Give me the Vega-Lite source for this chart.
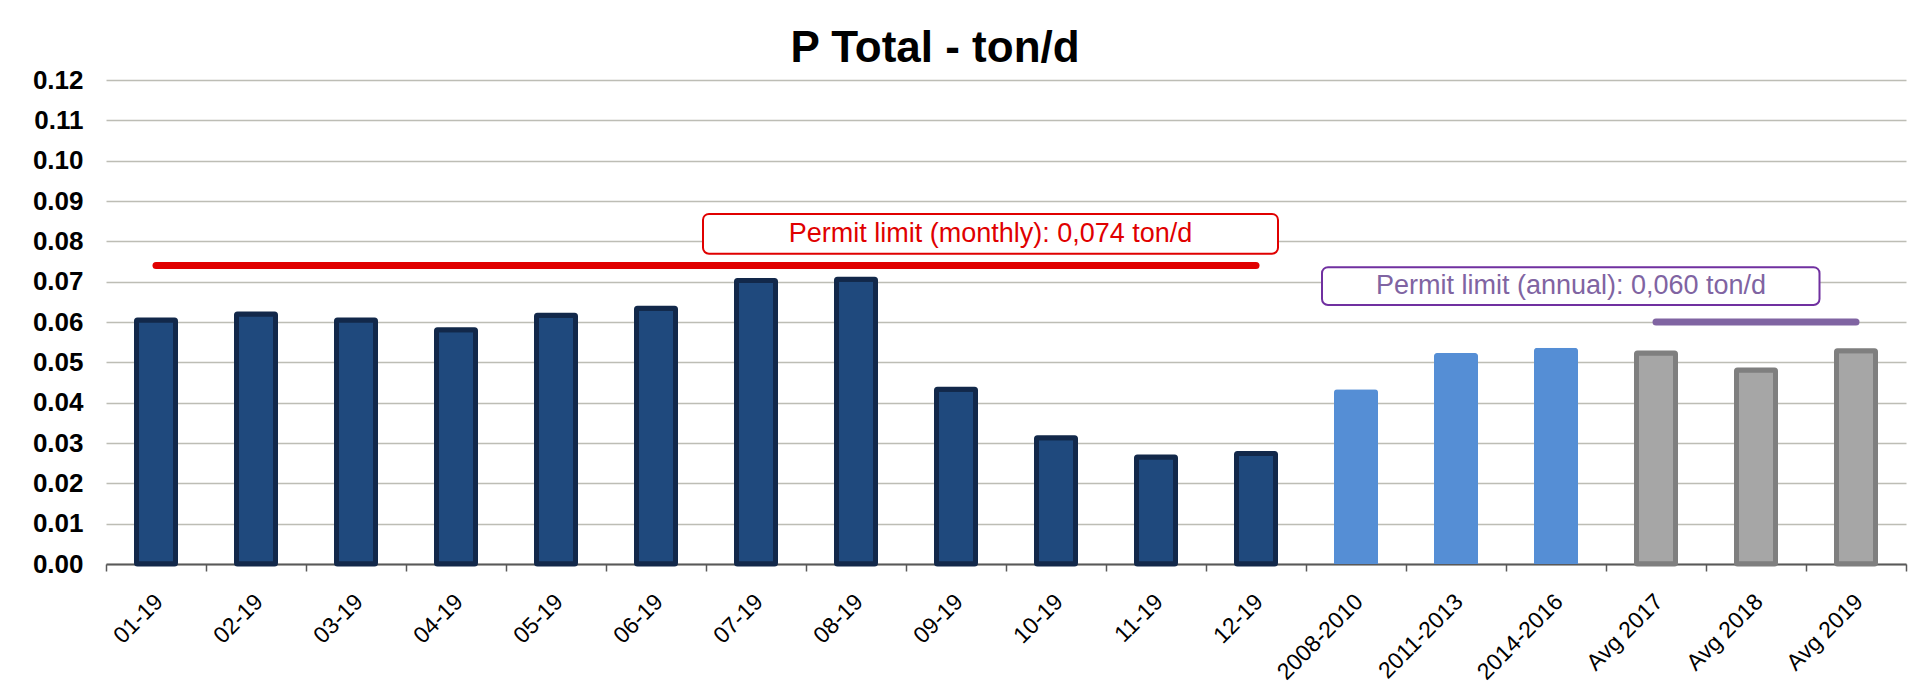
{
  "$schema": "https://vega.github.io/schema/vega-lite/v6.json",
  "width": 1800,
  "height": 484,
  "autosize": {"type": "pad"},
  "padding": {"left": 32, "top": 27, "right": 5, "bottom": 2},
  "background": "white",
  "config": {"font": "Liberation Sans", "view": {"stroke": null}},
  "title": {"text": "P Total - ton/d", "font": "Liberation Sans", "fontSize": 44, "fontWeight": "bold", "color": "#000000", "anchor": "middle", "dx": -71, "offset": -4},
  "datasets": {
    "bars": [
      {"category": "01-19", "value": 0.0605, "group": "month"},
      {"category": "02-19", "value": 0.0620, "group": "month"},
      {"category": "03-19", "value": 0.0605, "group": "month"},
      {"category": "04-19", "value": 0.0581, "group": "month"},
      {"category": "05-19", "value": 0.0617, "group": "month"},
      {"category": "06-19", "value": 0.0634, "group": "month"},
      {"category": "07-19", "value": 0.0703, "group": "month"},
      {"category": "08-19", "value": 0.0706, "group": "month"},
      {"category": "09-19", "value": 0.0433, "group": "month"},
      {"category": "10-19", "value": 0.0313, "group": "month"},
      {"category": "11-19", "value": 0.0265, "group": "month"},
      {"category": "12-19", "value": 0.0274, "group": "month"},
      {"category": "2008-2010", "value": 0.0433, "group": "period"},
      {"category": "2011-2013", "value": 0.0523, "group": "period"},
      {"category": "2014-2016", "value": 0.0536, "group": "period"},
      {"category": "Avg 2017", "value": 0.0523, "group": "average"},
      {"category": "Avg 2018", "value": 0.0481, "group": "average"},
      {"category": "Avg 2019", "value": 0.0529, "group": "average"}
    ],
    "limits": [
      {"kind": "monthly", "start": 0.5, "end": 11.5, "limit": 0.074},
      {"kind": "annual", "start": 15.5, "end": 17.5, "limit": 0.060}
    ],
    "labels": [
      {"kind": "monthly", "label": "Permit limit (monthly):  0,074 ton/d", "x1": 5.97, "x2": 11.72, "y1": 0.0769, "y2": 0.0868, "xm": 8.845, "ym": 0.08185},
      {"kind": "annual", "label": "Permit limit (annual):  0,060 ton/d", "x1": 12.16, "x2": 17.135, "y1": 0.0642, "y2": 0.0736, "xm": 14.65, "ym": 0.0689}
    ]
  },
  "layer": [
    {
      "data": {"name": "bars"},
      "encoding": {
        "x": {
          "field": "category", "type": "nominal", "sort": null,
          "scale": {"paddingInner": 0, "paddingOuter": 0},
          "axis": {
            "title": null, "labelAngle": -45, "labelFontSize": 23, "labelColor": "#000000",
            "labelFont": "Liberation Sans", "labelPadding": 19, "labelOffset": -5, "tickSize": 7, "tickBand": "extent",
            "tickColor": "#595959", "tickWidth": 1.5, "domainColor": "#595959", "domainWidth": 2, "grid": false
          }
        },
        "y": {
          "field": "value", "type": "quantitative",
          "scale": {"domain": [0, 0.12], "nice": false, "zero": true},
          "axis": {
            "title": null, "values": [0, 0.01, 0.02, 0.03, 0.04, 0.05, 0.06, 0.07, 0.08, 0.09, 0.1, 0.11, 0.12],
            "format": ".2f", "labelFontSize": 26, "labelFontWeight": "bold", "labelColor": "#000000",
            "labelFont": "Liberation Sans", "labelPadding": 23, "ticks": false, "domain": false,
            "grid": true, "gridColor": "#BDBDB5", "gridWidth": 1.5
          }
        }
      },
      "layer": [
        {
          "transform": [{"filter": "datum.group === 'month'"}],
          "mark": {"type": "bar", "size": 39, "fill": "#1F497D", "stroke": "#12284A", "strokeWidth": 5, "strokeJoin": "round", "cornerRadius": 1}
        },
        {
          "transform": [{"filter": "datum.group === 'period'"}],
          "mark": {"type": "bar", "size": 44, "fill": "#558ED5", "cornerRadiusTopLeft": 3, "cornerRadiusTopRight": 3}
        },
        {
          "transform": [{"filter": "datum.group === 'average'"}],
          "mark": {"type": "bar", "size": 39, "fill": "#A6A6A6", "stroke": "#7F7F7F", "strokeWidth": 5, "strokeJoin": "round", "cornerRadius": 1}
        }
      ]
    },
    {
      "layer": [
        {
          "data": {"name": "limits"},
          "mark": {"type": "rule", "strokeCap": "round", "strokeWidth": 7},
          "encoding": {
            "x": {"field": "start", "type": "quantitative", "scale": {"domain": [0, 18], "nice": false, "zero": false}, "axis": null},
            "x2": {"field": "end"},
            "y": {"field": "limit", "type": "quantitative"},
            "color": {"field": "kind", "type": "nominal", "legend": null, "scale": {"domain": ["monthly", "annual"], "range": ["#E00000", "#8064A2"]}}
          }
        },
        {
          "data": {"name": "labels"},
          "mark": {"type": "rect", "fill": "white", "cornerRadius": 6, "strokeWidth": 2},
          "encoding": {
            "x": {"field": "x1", "type": "quantitative", "axis": null},
            "x2": {"field": "x2"},
            "y": {"field": "y1", "type": "quantitative"},
            "y2": {"field": "y2"},
            "stroke": {"field": "kind", "type": "nominal", "legend": null, "scale": {"domain": ["monthly", "annual"], "range": ["#E00000", "#7030A0"]}}
          }
        },
        {
          "data": {"name": "labels"},
          "mark": {"type": "text", "fontSize": 27, "font": "Liberation Sans", "align": "center", "baseline": "middle"},
          "encoding": {
            "x": {"field": "xm", "type": "quantitative", "axis": null},
            "y": {"field": "ym", "type": "quantitative"},
            "text": {"field": "label"},
            "color": {"field": "kind", "type": "nominal", "legend": null, "scale": {"domain": ["monthly", "annual"], "range": ["#E00000", "#7030A0"]}}
          }
        }
      ]
    }
  ],
  "resolve": {"scale": {"x": "independent", "color": "independent", "stroke": "independent"}}
}
